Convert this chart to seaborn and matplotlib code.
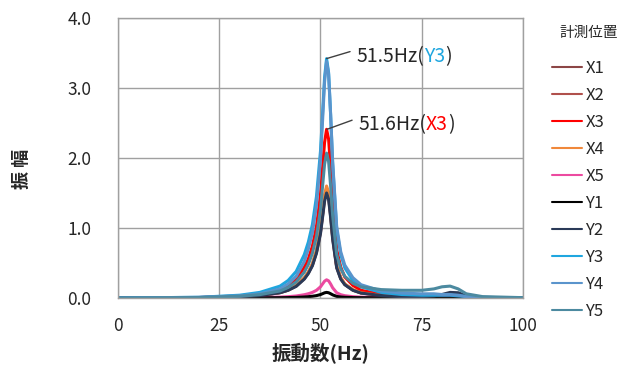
import numpy as np
import pandas as pd
import matplotlib
matplotlib.use('Agg')
import matplotlib.pyplot as plt
import seaborn as sns
from matplotlib.offsetbox import TextArea, HPacker, AnnotationBbox

# frequency grid (Hz)
freq = [0, 20, 30, 35, 40, 42, 44, 46, 47, 48, 49, 50, 50.5, 51, 51.5, 52, 52.5, 53, 54, 55,
        56, 58, 60, 65, 70, 75, 78, 80, 82, 84, 86, 90, 100]

x1 = [0, 0.005, 0.018, 0.035, 0.076, 0.112, 0.17, 0.277, 0.358, 0.47, 0.65, 0.94, 1.17, 1.41, 1.53,
      1.44, 1.17, 0.86, 0.44, 0.277, 0.193, 0.112, 0.072, 0.035, 0.02, 0.01, 0.01, 0.005, 0, 0, 0, 0, 0]
x2 = [0, 0.005, 0.019, 0.036, 0.078, 0.115, 0.174, 0.284, 0.367, 0.48, 0.666, 0.964, 1.20, 1.45, 1.57,
      1.48, 1.20, 0.88, 0.45, 0.284, 0.198, 0.115, 0.074, 0.036, 0.02, 0.01, 0.01, 0.005, 0, 0, 0, 0, 0]
x3 = [0, 0.007, 0.03, 0.055, 0.12, 0.175, 0.27, 0.44, 0.56, 0.74, 1.02, 1.48, 1.85, 2.22, 2.41,
      2.27, 1.85, 1.35, 0.69, 0.44, 0.30, 0.18, 0.11, 0.055, 0.035, 0.025, 0.02, 0.02, 0.02, 0.015, 0.01, 0, 0]
x4 = [0, 0.005, 0.02, 0.037, 0.08, 0.117, 0.18, 0.29, 0.37, 0.49, 0.68, 0.98, 1.23, 1.47, 1.60,
      1.51, 1.23, 0.90, 0.46, 0.29, 0.20, 0.12, 0.075, 0.035, 0.02, 0.01, 0.01, 0.01, 0.005, 0, 0, 0, 0]
x5 = [0, 0, 0.003, 0.006, 0.013, 0.019, 0.029, 0.047, 0.061, 0.08, 0.11, 0.16, 0.20, 0.24, 0.26,
      0.245, 0.20, 0.146, 0.075, 0.047, 0.033, 0.019, 0.012, 0.006, 0.004, 0.005, 0.01, 0.02, 0.03, 0.025, 0.01, 0, 0]
y1 = [0, 0, 0.001, 0.002, 0.004, 0.006, 0.009, 0.014, 0.019, 0.025, 0.034, 0.049, 0.061, 0.074, 0.08,
      0.075, 0.061, 0.045, 0.023, 0.014, 0.01, 0.006, 0.004, 0.002, 0, 0, 0, 0, 0, 0, 0, 0, 0]
y2 = [0, 0.005, 0.018, 0.035, 0.075, 0.11, 0.167, 0.27, 0.35, 0.46, 0.64, 0.92, 1.15, 1.38, 1.50,
      1.41, 1.15, 0.84, 0.43, 0.27, 0.19, 0.11, 0.07, 0.035, 0.02, 0.02, 0.03, 0.05, 0.08, 0.075, 0.03, 0.005, 0]
y3 = [0, 0.01, 0.04, 0.08, 0.17, 0.25, 0.38, 0.62, 0.80, 1.05, 1.45, 2.10, 2.62, 3.15, 3.42,
      3.22, 2.62, 1.92, 0.98, 0.62, 0.43, 0.25, 0.16, 0.08, 0.05, 0.04, 0.04, 0.04, 0.04, 0.03, 0.02, 0.005, 0]
y4 = [0, 0.01, 0.03, 0.06, 0.13, 0.20, 0.31, 0.52, 0.70, 0.93, 1.32, 1.98, 2.52, 3.08, 3.38,
      3.20, 2.62, 1.95, 1.02, 0.66, 0.47, 0.29, 0.19, 0.10, 0.07, 0.06, 0.06, 0.05, 0.05, 0.04, 0.02, 0.01, 0]
y5 = [0, 0.006, 0.025, 0.048, 0.10, 0.15, 0.23, 0.37, 0.48, 0.64, 0.88, 1.27, 1.59, 1.91, 2.07,
      1.95, 1.60, 1.18, 0.62, 0.42, 0.31, 0.21, 0.16, 0.12, 0.11, 0.11, 0.13, 0.16, 0.17, 0.13, 0.06, 0.02, 0.005]

positions = ['X1', 'X2', 'X3', 'X4', 'X5', 'Y1', 'Y2', 'Y3', 'Y4', 'Y5']
series = [x1, x2, x3, x4, x5, y1, y2, y3, y4, y5]
colors = ['#8c4646', '#b0504c', '#ff0000', '#f0883a', '#ec4aa0',
          '#000000', '#2a3a58', '#1fa6df', '#5a94cc', '#4c8aa0']

rows = []
for pos, vals in zip(positions, series):
    for f, a in zip(freq, vals):
        rows.append({'freq': f, 'amp': a, 'pos': pos})
df = pd.DataFrame(rows)

sns.set_style("white")
plt.rcParams['font.family'] = ['Noto Sans CJK JP', 'DejaVu Sans']

fig = plt.figure(figsize=(6.33, 3.65), dpi=100)
ax = fig.add_axes([118 / 633, 67 / 365, 405 / 633, 280 / 365])

sns.lineplot(data=df, x='freq', y='amp', hue='pos', hue_order=positions,
             palette=colors, linewidth=2.2, ax=ax, sort=False)

ax.set_xlim(0, 100)
ax.set_ylim(0, 4.0)
ax.set_xticks([0, 25, 50, 75, 100])
ax.set_yticks([0, 1, 2, 3, 4])
ax.set_yticklabels(['0.0', '1.0', '2.0', '3.0', '4.0'])
ax.grid(True, color='#a0a0a0', linewidth=1)
ax.set_axisbelow(True)
for sp in ax.spines.values():
    sp.set_color('#a0a0a0')
    sp.set_linewidth(1)
ax.tick_params(axis='both', length=0, labelsize=12.5, colors='#262626')
ax.tick_params(axis='y', pad=19)
ax.tick_params(axis='x', pad=14)

ax.set_xlabel('振動数(Hz)', fontsize=14, fontweight='bold', color='#262626')
ax.set_ylabel('振 幅', fontsize=13, fontweight='bold', color='#262626')
ax.yaxis.set_label_coords(-0.215, 0.46)
ax.xaxis.set_label_coords(0.5, -0.162)

# peak annotations
def peak_label(xy, line_end, text_pos, head, name, color):
    ax.annotate('', xy=xy, xytext=line_end,
                arrowprops=dict(arrowstyle='-', color='#404040', lw=1, shrinkA=0, shrinkB=0))
    box = HPacker(children=[TextArea(head, textprops=dict(color='#262626', size=14)),
                            TextArea(name, textprops=dict(color=color, size=14)),
                            TextArea(')', textprops=dict(color='#262626', size=14))],
                  align='baseline', pad=0, sep=0)
    ab = AnnotationBbox(box, text_pos, xycoords='data', box_alignment=(0, 0.5), frameon=False, pad=0)
    ax.add_artist(ab)

peak_label((51.5, 3.42), (57.3, 3.52), (58.8, 3.45), '51.5Hz(', 'Y3', '#1fa6df')
peak_label((51.6, 2.41), (57.8, 2.54), (59.3, 2.48), '51.6Hz(', 'X3', '#ff0000')

fig.text(589 / 633, 1 - 33 / 365, '計測位置', ha='center', va='center',
         fontsize=10.5, color='#262626')

handles, labels = ax.get_legend_handles_labels()
leg = ax.legend(handles, labels, loc='upper left',
                bbox_to_anchor=(552 / 633, 1 - 60 / 365), bbox_transform=fig.transFigure,
                frameon=False, fontsize=12, handlelength=1.8,
                handletextpad=0.2, labelspacing=0.6, borderpad=0, borderaxespad=0)
for t in leg.get_texts():
    t.set_color('#262626')
for h in leg.get_lines():
    h.set_linewidth(1.5)

fig.savefig('out.png', dpi=100)
